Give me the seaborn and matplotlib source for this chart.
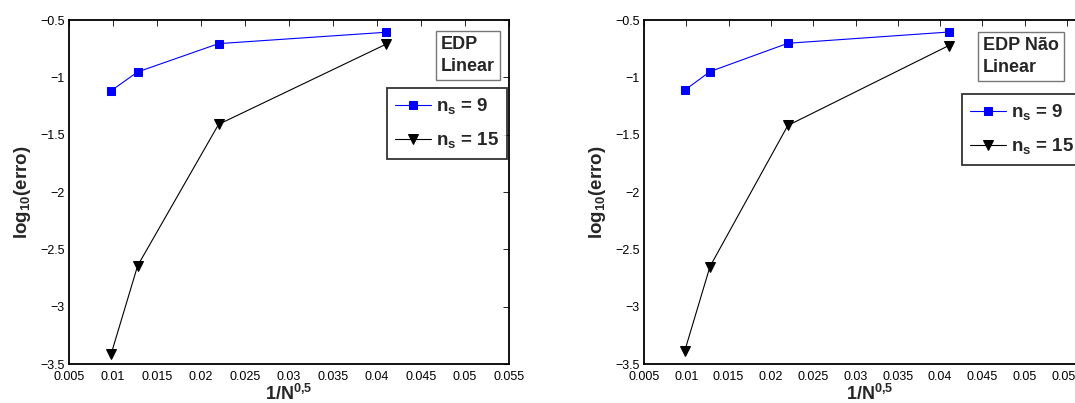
import numpy as np
import pandas as pd
import matplotlib
matplotlib.use("Agg")
import matplotlib.pyplot as plt
import seaborn as sns

# Data
x_vals = [0.0098, 0.0128, 0.022, 0.041]
lin_ns9 = [-1.116, -0.953, -0.706, -0.607]
lin_ns15 = [-3.41, -2.643, -1.41, -0.712]
nl_ns9 = [-1.113, -0.95, -0.703, -0.605]
nl_ns15 = [-3.39, -2.65, -1.42, -0.724]
series_labels = [r"$\mathbf{n}_{\mathbf{s}}$ = 9", r"$\mathbf{n}_{\mathbf{s}}$ = 15"]
panel_titles = ["EDP\nLinear", "EDP Não\nLinear"]
xtick_vals = [0.005, 0.01, 0.015, 0.02, 0.025, 0.03, 0.035, 0.04, 0.045, 0.05, 0.055]
ytick_vals = [-3.5, -3, -2.5, -2, -1.5, -1, -0.5]

sns.set_style("white")
plt.rcParams['font.family'] = ['Liberation Sans', 'DejaVu Sans']
plt.rcParams['mathtext.fontset'] = 'custom'
plt.rcParams['mathtext.rm'] = 'Liberation Sans'
plt.rcParams['mathtext.bf'] = 'Liberation Sans:bold'
plt.rcParams['mathtext.it'] = 'Liberation Sans:bold'

W, H = 1075, 403
fig = plt.figure(figsize=(W / 100, H / 100), dpi=100)

def ax_rect(x0, x1, y0, y1):
    return [x0 / W, 1 - y1 / H, (x1 - x0) / W, (y1 - y0) / H]

ax1 = fig.add_axes(ax_rect(69, 509, 20, 364))
px_per = (1067 - 644) / 0.05
ax2 = fig.add_axes(ax_rect(644, 1095, 20, 364))

def draw(ax, y9, y15, title, xmax, text_box, leg_anchor):
    df9 = pd.DataFrame({"x": x_vals, "y": y9})
    df15 = pd.DataFrame({"x": x_vals, "y": y15})
    sns.lineplot(data=df9, x="x", y="y", ax=ax, color="blue", marker="s",
                 markersize=6, markeredgecolor="blue", linewidth=0.8,
                 label=series_labels[0])
    sns.lineplot(data=df15, x="x", y="y", ax=ax, color="black", marker="v",
                 markersize=7.5, markeredgecolor="black", linewidth=0.8,
                 label=series_labels[1])
    ax.set_xlim(0.005, xmax)
    ax.set_ylim(-3.5, -0.5)
    ax.set_xticks(xtick_vals)
    ax.set_xticklabels([f"{v:g}" for v in xtick_vals])
    ax.set_yticks(ytick_vals)
    ax.set_yticklabels([f"{v:g}".replace("-", "\u2212") for v in ytick_vals])
    ax.tick_params(direction="in", top=True, right=True, length=4, width=0.6,
                   labelsize=9, colors="black")
    ax.tick_params(axis="x", pad=5)
    ax.tick_params(axis="y", pad=3)
    for s in ax.spines.values():
        s.set_linewidth(1.3)
        s.set_color("black")
    ax.set_xlabel(r"1/N$^{\mathbf{0{,}5}}$", fontsize=13, fontweight="bold", labelpad=1)
    ax.set_ylabel(r"log$_{\mathbf{10}}$(erro)", fontsize=13.5, fontweight="bold", labelpad=5)
    tx, ty = text_box
    ax.text(tx, ty, title, transform=ax.transAxes, fontsize=13, fontweight="bold",
            ha="left", va="top", linespacing=1.35,
            bbox=dict(boxstyle="square,pad=0.3", facecolor="white", edgecolor="#777777", linewidth=1.0))
    leg = ax.legend(loc="upper left", bbox_to_anchor=leg_anchor, bbox_transform=ax.transAxes,
                    frameon=True, fancybox=False, handlelength=1.9, borderaxespad=0,
                    handletextpad=0.25, borderpad=0.45, labelspacing=0.75, numpoints=1,
                    prop={"weight": "bold", "size": 13.5})
    leg.get_frame().set_edgecolor("black")
    leg.get_frame().set_linewidth(1.3)

draw(ax1, lin_ns9, lin_ns15, panel_titles[0], 0.055,
     ((441 - 69) / 440, 1 - (36 - 20) / 344), ((387 - 69) / 440, 1 - (88 - 20) / 344))
w2 = 1095 - 644
xmax2 = 0.005 + w2 / px_per
draw(ax2, nl_ns9, nl_ns15, panel_titles[1], xmax2,
     ((983 - 644) / w2, 1 - (37 - 20) / 344), ((962 - 644) / w2, 1 - (94 - 20) / 344))

fig.savefig("out.png", dpi=100)
